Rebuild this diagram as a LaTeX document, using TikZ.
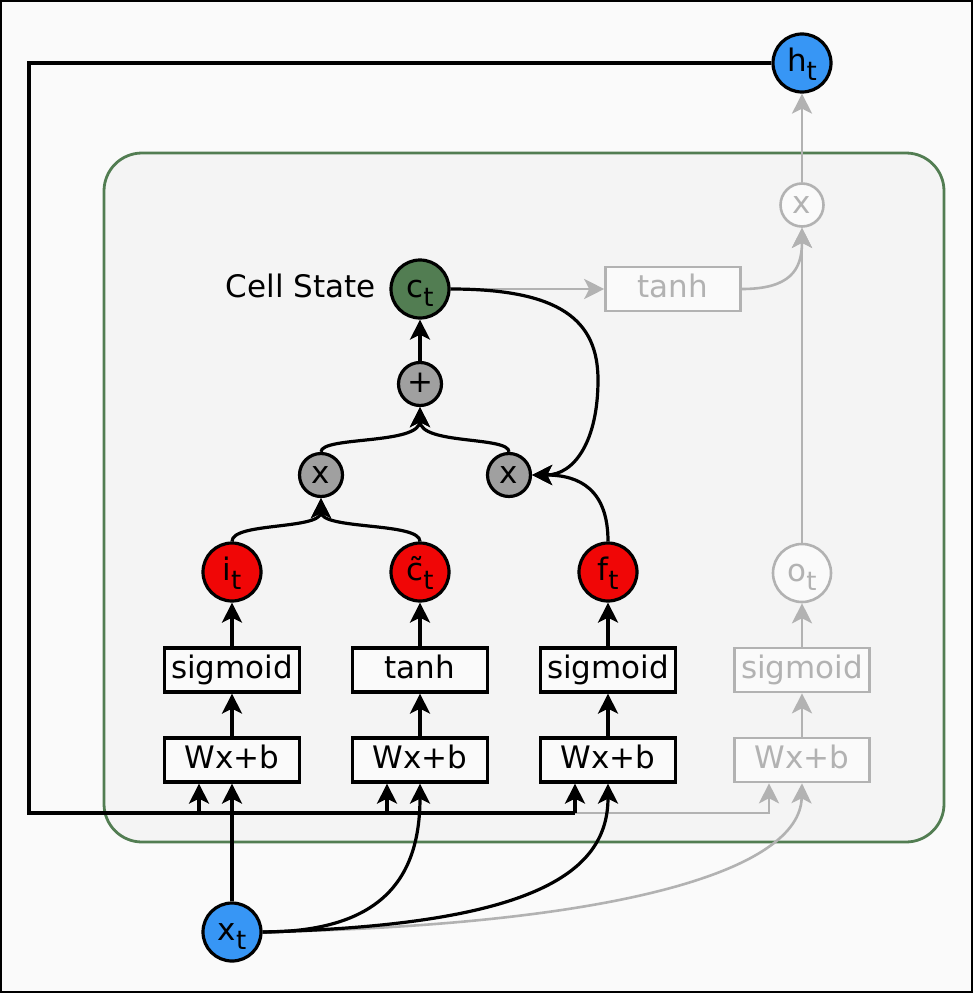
\documentclass[tikz,border=0pt]{standalone}
\usepackage{fontspec}
\setmainfont{DejaVu Sans}
\usetikzlibrary{arrows.meta}
\definecolor{bgc}{HTML}{FAFAFA}
\definecolor{innerc}{HTML}{F4F4F4}
\definecolor{cellgreen}{RGB}{82,125,82}
\definecolor{blueC}{RGB}{55,150,245}
\definecolor{redC}{RGB}{240,6,6}
\definecolor{opgray}{RGB}{160,160,160}
\definecolor{ghostc}{RGB}{178,178,178}
\newcommand\sbt[1]{\raisebox{-9pt}{\fontsize{26}{26}\selectfont #1}}
\begin{document}
\begin{tikzpicture}[x=1pt,y=-1pt,
  lbl/.style={font=\fontsize{31}{36}\selectfont, text height=22pt, text depth=6pt, inner sep=0pt},
  circ/.style={lbl, circle, draw=black, line width=3.2pt, minimum size=58pt},
  op/.style={lbl, circle, draw=black, line width=3.2pt, minimum size=43pt, fill=opgray},
  fbox/.style={lbl, rectangle, draw=black, line width=3.2pt, minimum width=135pt, minimum height=44pt, fill=bgc},
  ghost/.style={draw=ghostc, text=ghostc, fill=bgc, line width=2.6pt},
  arr/.style={line width=3.2pt, black, -{Stealth[length=20pt,width=20pt,inset=5pt]}},
  garr/.style={line width=2.6pt, ghostc, -{Stealth[length=20pt,width=20pt,inset=5pt]}},
  bline/.style={line width=3.4pt, black},
  gline/.style={line width=2.6pt, ghostc}]
\useasboundingbox (0,0) rectangle (973,993);
\fill[bgc] (0,0) rectangle (973,993);
\draw[line width=2.5pt] (1,1) rectangle (972,992);
\draw[cellgreen, fill=innerc, line width=2.8pt, rounded corners=38pt] (104,153) rectangle (944,842);

% nodes
\node[circ, fill=blueC] (h) at (802,63) {h\sbt{t}};
\node[circ, fill=blueC] (x) at (232,932) {x\sbt{t}};
\node[circ, fill=cellgreen] (c) at (420,289) {c\sbt{t}};
\node[lbl, anchor=east] (cs) at (376,289) {Cell State};
\node[op] (plus) at (420,384) {+};
\node[op] (m1) at (321,475) {x};
\node[op] (m2) at (509,475) {x};
\node[circ, fill=redC] (i) at (232,572) {i\sbt{t}};
\node[circ, fill=redC] (ct) at (420,572) {\~c\sbt{t}};
\node[circ, fill=redC] (f) at (608,572) {f\sbt{t}};
\node[circ, ghost] (o) at (802,573) {o\sbt{t}};
\node[op, ghost] (m3) at (802,205) {x};
\node[fbox, ghost] (th) at (673,289) {tanh};
\node[fbox] (s1) at (232,670) {sigmoid};
\node[fbox] (t2) at (420,670) {tanh};
\node[fbox] (s3) at (608,670) {sigmoid};
\node[fbox, ghost] (s4) at (802,670) {sigmoid};
\node[fbox] (w1) at (232,760) {Wx+b};
\node[fbox] (w2) at (420,760) {Wx+b};
\node[fbox] (w3) at (608,760) {Wx+b};
\node[fbox, ghost] (w4) at (802,760) {Wx+b};

% feedback coordinates
\coordinate (k0) at (29,63);
\coordinate (k1) at (29,813);
\coordinate (b1) at (199,813);
\coordinate (b2) at (387,813);
\coordinate (b3) at (575,813);
\coordinate (b4) at (769,813);
\coordinate (cbend) at (598,380);

% gray connectors
\draw[garr] (x.east) .. controls (620,925) and (800,870) .. (w4.south);
\draw[garr] (b3) -- (b4) -- (b4 |- w4.south);
\draw[garr] (w4) -- (s4);
\draw[garr] (s4) -- (o);
\draw[garr] (o) -- (m3);
\draw[garr] (m3) -- (h);
\draw[garr] (c.east) -- (th.west);
\draw[garr] (th.east) .. controls (790,289) and (802,270) .. (m3.south);

% black connectors
\draw[bline] (h.west) -- (k0) -- (k1) -- (b3);
\draw[arr] (b1) -- (b1 |- w1.south);
\draw[arr] (b2) -- (b2 |- w2.south);
\draw[arr] (b3) -- (b3 |- w3.south);
\draw[arr] (x.north) -- (w1.south);
\draw[arr] (x.east) .. controls (380,932) and (420,880) .. (w2.south);
\draw[arr] (x.east) .. controls (540,925) and (608,870) .. (w3.south);
\draw[arr] (w1) -- (s1);
\draw[arr] (w2) -- (t2);
\draw[arr] (w3) -- (s3);
\draw[arr] (s1) -- (i);
\draw[arr] (t2) -- (ct);
\draw[arr] (s3) -- (f);
\draw[arr] (i.north) .. controls (232,522) and (321,530) .. (m1.south);
\draw[arr] (ct.north) .. controls (420,522) and (321,530) .. (m1.south);
\draw[arr] (m1.north) .. controls (321,436) and (420,445) .. (plus.south);
\draw[arr] (m2.north) .. controls (509,436) and (420,445) .. (plus.south);
\draw[arr] (plus) -- (c);
\draw[arr] (f.north) .. controls (608,490) and (580,475) .. (m2.east);
\draw[arr] (c.east) .. controls (560,289) and (598,320) .. (cbend) .. controls (598,440) and (575,475) .. (m2.east);
\end{tikzpicture}
\end{document}
